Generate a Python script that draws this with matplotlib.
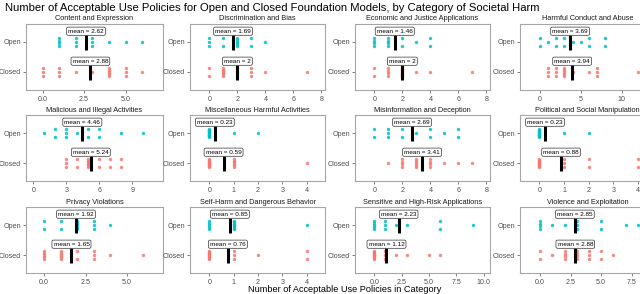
import numpy as np
import matplotlib
matplotlib.use("Agg")
import matplotlib.pyplot as plt

plt.rcParams['font.family'] = ['Liberation Sans', 'DejaVu Sans']

categories = ['Content and Expression', 'Discrimination and Bias',
              'Economic and Justice Applications', 'Harmful Conduct and Abuse',
              'Malicious and Illegal Activities', 'Miscellaneous Harmful Activities',
              'Misinformation and Deception', 'Political and Social Manipulation',
              'Privacy Violations', 'Self-Harm and Dangerous Behavior',
              'Sensitive and High-Risk Applications', 'Violence and Exploitation']

# number of policies per model, open models (13) and closed models (17)
open_values = [
    [1, 1, 1, 1, 2, 2, 2, 3, 3, 3, 4, 5, 6],
    [0, 0, 0, 1, 1, 2, 2, 2, 2, 2, 3, 3, 4],
    [0, 0, 0, 0, 1, 1, 1, 1, 2, 2, 3, 4, 4],
    [0, 0, 1, 2, 2, 3, 3, 4, 5, 6, 6, 8, 8],
    [1, 2, 2, 3, 3, 3, 4, 5, 5, 6, 6, 8, 10],
    [0, 0, 0, 0, 0, 0, 0, 0, 0, 0, 0, 1, 2],
    [0, 0, 1, 1, 1, 2, 2, 3, 4, 4, 5, 6, 6],
    [0, 0, 0, 0, 0, 0, 0, 0, 0, 0, 0, 1, 2],
    [0, 0, 1, 1, 2, 2, 2, 2, 2, 3, 3, 3, 4],
    [0, 0, 0, 0, 0, 1, 1, 1, 1, 1, 1, 1, 4],
    [0, 0, 0, 0, 0, 1, 1, 1, 2, 3, 6, 6, 9],
    [0, 0, 0, 0, 1, 2, 3, 3, 3, 5, 5, 7, 8],
]
closed_values = [
    [0, 0, 0, 1, 1, 1, 2, 3, 4, 4, 4, 4, 4, 5, 5, 5, 6],
    [0, 0, 1, 1, 1, 1, 1, 1, 2, 2, 2, 2, 3, 3, 3, 4, 7],
    [0, 0, 1, 1, 1, 1, 2, 2, 2, 2, 2, 2, 2, 2, 3, 4, 7],
    [1, 1, 1, 2, 2, 2, 3, 3, 3, 3, 3, 4, 6, 7, 7, 7, 12],
    [3, 3, 3, 4, 4, 5, 5, 5, 5, 5, 5, 6, 6, 7, 7, 8, 8],
    [0, 0, 0, 0, 0, 0, 0, 0, 0, 0, 1, 1, 1, 1, 1, 1, 4],
    [1, 2, 2, 2, 2, 3, 3, 3, 3, 3, 4, 4, 4, 4, 5, 6, 7],
    [0, 0, 0, 0, 0, 0, 0, 0, 0, 0, 1, 1, 1, 2, 2, 4, 4],
    [0, 0, 0, 0, 0, 1, 1, 1, 1, 1, 2, 2, 3, 3, 3, 4, 6],
    [0, 0, 0, 0, 0, 0, 0, 0, 0, 0, 0, 1, 1, 1, 2, 4, 4],
    [0, 0, 0, 0, 0, 0, 0, 0, 0, 0, 1, 1, 1, 2, 3, 5, 6],
    [0, 0, 1, 2, 2, 2, 2, 3, 3, 3, 3, 4, 4, 4, 5, 5, 6],
]
groups = ['Closed', 'Open']

# panel x limits and ticks (free scales)
xlims = [(-1.0, 7.26), (-1.38, 8.26), (-1.38, 8.26), (-2.45, 14.1),
         (-0.66, 11.8), (-0.79, 4.75), (-1.38, 8.26), (-0.78, 4.68),
         (-1.1, 7.18), (-0.79, 4.75), (-1.76, 10.58), (-1.64, 9.4)]
xticks = [[0, 2.5, 5], [0, 2, 4, 6, 8], [0, 2, 4, 6, 8], [0, 5, 10],
          [0, 3, 6, 9], [0, 1, 2, 3, 4], [0, 2, 4, 6, 8], [0, 1, 2, 3, 4],
          [0, 2.5, 5], [0, 1, 2, 3, 4], [0, 2.5, 5, 7.5, 10], [0, 2.5, 5, 7.5]]

colors = {'Open': '#00BFC4', 'Closed': '#F8766D'}

W, H = 640, 294
fig = plt.figure(figsize=(W / 100, H / 100), dpi=100)

col_left = [26, 190, 355, 520]
col_right = [163, 325, 490, 655]
row_top = [24, 115, 207]
ph = 66


def spread(vals):
    vals = np.asarray(vals)
    off = np.zeros(len(vals), dtype=float)
    for v in np.unique(vals):
        idx = np.where(vals == v)[0]
        k = len(idx)
        if k > 1:
            off[idx] = np.linspace(-0.13, 0.13, k)
    return off


for i, cat in enumerate(categories):
    r, c = divmod(i, 4)
    l, rr = col_left[c], col_right[c]
    t = row_top[r]
    ax = fig.add_axes([l / W, 1 - (t + ph) / H, (rr - l) / W, ph / H])
    for yi, g in enumerate(groups):
        vals = open_values[i] if g == 'Open' else closed_values[i]
        ypos = yi + 1
        ax.scatter(vals, ypos + spread(vals), s=6, color=colors[g],
                   alpha=0.85, linewidths=0, zorder=2)
        m = np.mean(vals)
        ax.plot([m, m], [ypos - 0.25, ypos + 0.25], color='black', lw=2.2,
                solid_capstyle='butt', zorder=3)
        ax.text(m, ypos + 0.36, f"mean = {round(m, 2):g}", ha='center',
                va='center', fontsize=4.6, zorder=4,
                bbox=dict(boxstyle='round,pad=0.25', fc='white', ec='#333333',
                          lw=0.5))
    ax.set_xlim(*xlims[i])
    ax.set_ylim(0.4, 2.6)
    ax.set_yticks([1, 2])
    ax.set_yticklabels(groups)
    tk = xticks[i]
    ax.set_xticks(tk)
    if any(v != int(v) for v in tk):
        ax.set_xticklabels([f"{v:.1f}" for v in tk])
    else:
        ax.set_xticklabels([f"{int(v)}" for v in tk])
    ax.tick_params(labelsize=5.1, labelcolor='#4D4D4D', color='#4D4D4D',
                   length=2, width=0.5, pad=2)
    ax.tick_params(axis='y', pad=1.5)
    for s in ax.spines.values():
        s.set_color('#A6A6A6')
        s.set_linewidth(0.8)
    ax.patch.set_alpha(0)
    fig.text((l + rr) / 2 / W, 1 - (t - 5) / H, cat, ha='center', va='center',
             fontsize=5.3, color='#1A1A1A')

fig.text(5 / W, 1 - 8 / H,
         'Number of Acceptable Use Policies for Open and Closed Foundation Models, by Category of Societal Harm',
         ha='left', va='center', fontsize=8.1)
fig.text(345 / W, 1 - 290 / H, 'Number of Acceptable Use Policies in Category',
         ha='center', va='center', fontsize=6.6)

fig.savefig('out.png', dpi=100)
